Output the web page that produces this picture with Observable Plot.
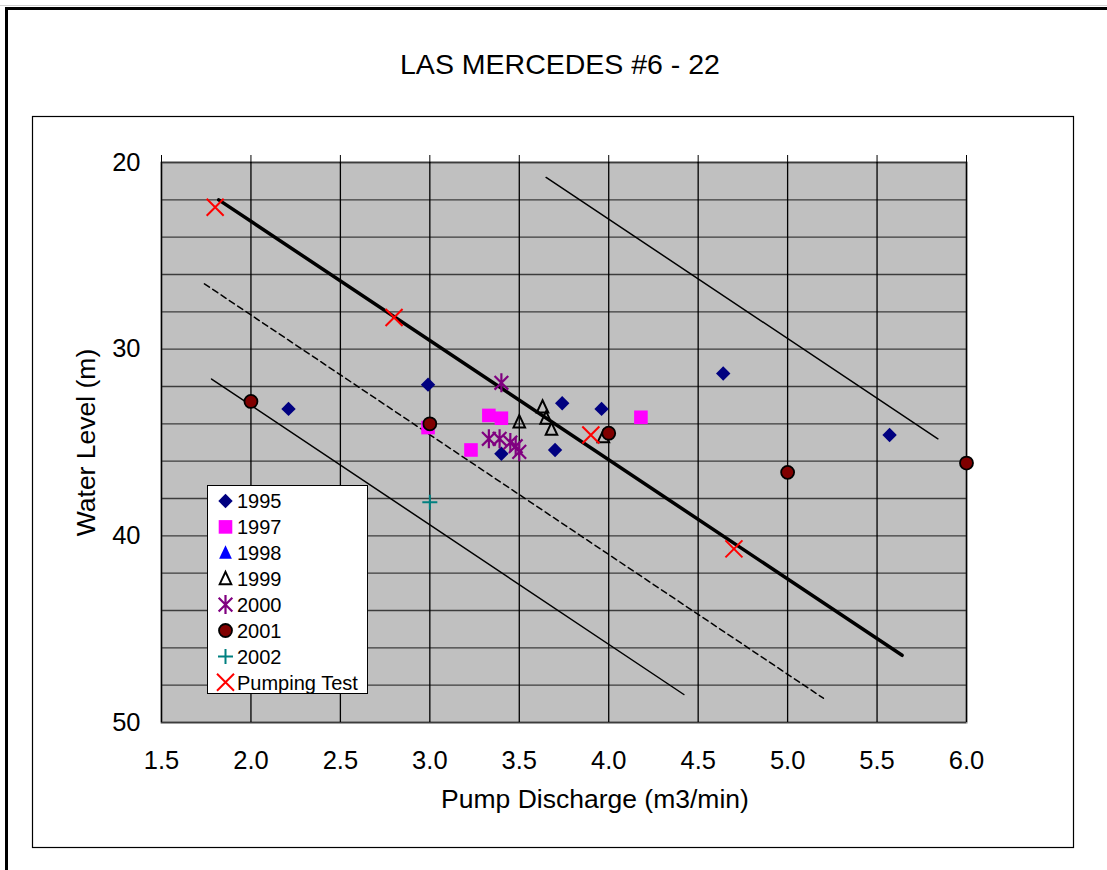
<!DOCTYPE html>
<html>
<head>
<meta charset="utf-8">
<script src="https://cdn.jsdelivr.net/npm/d3@7"></script>
<script src="https://cdn.jsdelivr.net/npm/@observablehq/plot@0.6"></script>
<style>
  body { margin: 0; background: #fff; font-family: "Liberation Sans", Arial, sans-serif; }
  #wrap { position: relative; width: 1107px; height: 870px; overflow: hidden; }
  #wrap > svg { position: absolute; left: 0; top: 0; }
</style>
</head>
<body>
<div id="wrap"></div>
<script>
// ---------- data ----------
const xTicks = [1.5, 2.0, 2.5, 3.0, 3.5, 4.0, 4.5, 5.0, 5.5, 6.0];
const yLabelTicks = [20, 30, 40, 50];
const yGrid = [20, 22, 24, 26, 28, 30, 32, 34, 36, 38, 40, 42, 44, 46, 48, 50];

const x1995 = [2.21, 2.99, 3.40, 3.70, 3.74, 3.96, 4.64, 5.57];
const y1995 = [33.2, 31.9, 35.6, 35.4, 32.9, 33.2, 31.3, 34.6];
const x1997 = [2.99, 3.23, 3.33, 3.40, 4.18];
const y1997 = [34.2, 35.4, 33.55, 33.7, 33.65];
const x1998 = [];
const y1998 = [];
const x1999 = [3.50, 3.63, 3.65, 3.68, 3.97];
const y1999 = [33.9, 33.1, 33.7, 34.3, 34.7];
const x2000 = [3.40, 3.33, 3.39, 3.45, 3.48, 3.50];
const y2000 = [31.8, 34.8, 34.8, 35.0, 35.2, 35.5];
const x2001 = [2.0, 3.0, 4.0, 5.0, 6.0];
const y2001 = [32.8, 34.0, 34.5, 36.6, 36.1];
const x2002 = [3.0];
const y2002 = [38.2];
const xPump = [1.8, 2.8, 3.9, 4.7];
const yPump = [22.4, 28.3, 34.6, 40.7];

// trend lines (end points)
const xThick = [1.82, 5.64], yThick = [22.0, 46.4];
const xUpper = [3.65, 5.84], yUpper = [20.8, 34.8];
const xDash = [1.74, 5.20], yDash = [26.5, 48.7];
const xLower = [1.78, 4.42], yLower = [31.6, 48.5];

const legendLabels = ["1995", "1997", "1998", "1999", "2000", "2001", "2002", "Pumping Test"];

// ---------- helpers ----------
const zip = (xs, ys) => xs.map((x, i) => ({x, y: ys[i]}));
const rOf = size => Math.sqrt(size / Math.PI);
const symDiamond = {draw(c, s) { const r = rOf(s); c.moveTo(0, -r); c.lineTo(r, 0); c.lineTo(0, r); c.lineTo(-r, 0); c.closePath(); }};
const symSquare = {draw(c, s) { const r = rOf(s); c.moveTo(-r, -r); c.lineTo(r, -r); c.lineTo(r, r); c.lineTo(-r, r); c.closePath(); }};
const symTriangle = {draw(c, s) { const r = rOf(s); c.moveTo(0, -r); c.lineTo(r * 0.85, r * 0.8); c.lineTo(-r * 0.85, r * 0.8); c.closePath(); }};
const symAsterisk = {draw(c, s) { const r = rOf(s), k = r * 0.72; c.moveTo(0, -r); c.lineTo(0, r); c.moveTo(-k, -k); c.lineTo(k, k); c.moveTo(-k, k); c.lineTo(k, -k); }};
const symPlus = {draw(c, s) { const r = rOf(s); c.moveTo(0, -r); c.lineTo(0, r); c.moveTo(-r, 0); c.lineTo(r, 0); }};
const symTimes = {draw(c, s) { const r = rOf(s); c.moveTo(-r, -r); c.lineTo(r, r); c.moveTo(-r, r); c.lineTo(r, -r); }};
const symCircle = {draw(c, s) { const r = rOf(s); c.moveTo(r, 0); c.arc(0, 0, r, 0, 2 * Math.PI); c.closePath(); }};

const styles = [
  {symbol: symDiamond, r: 7.2, fill: "#000080", stroke: "none", sw: 0},
  {symbol: symSquare, r: 6.8, fill: "#ff00ff", stroke: "none", sw: 0},
  {symbol: symTriangle, r: 7.5, fill: "#0000ff", stroke: "none", sw: 0},
  {symbol: symTriangle, r: 6.8, fill: "none", stroke: "#000", sw: 2},
  {symbol: symAsterisk, r: 9.5, fill: "none", stroke: "#800080", sw: 2.2},
  {symbol: symCircle, r: 6.5, fill: "#800000", stroke: "#000", sw: 1.8},
  {symbol: symPlus, r: 7.5, fill: "none", stroke: "#008080", sw: 2},
  {symbol: symTimes, r: 8.5, fill: "none", stroke: "#ff0000", sw: 2}
];
const seriesData = [
  zip(x1995, y1995), zip(x1997, y1997), zip(x1998, y1998), zip(x1999, y1999),
  zip(x2000, y2000), zip(x2001, y2001), zip(x2002, y2002), zip(xPump, yPump)
];

const dotMarks = seriesData.map((d, i) => {
  const s = styles[i];
  return Plot.dot(d, {x: "x", y: "y", symbol: s.symbol, r: s.r, fill: s.fill,
    stroke: s.stroke, strokeWidth: s.sw});
});

const chart = Plot.plot({
  width: 1107,
  height: 870,
  marginLeft: 161,
  marginRight: 141,
  marginTop: 162,
  marginBottom: 148,
  style: {background: "transparent", fontFamily: "Liberation Sans, Arial, sans-serif", color: "#000", overflow: "visible"},
  x: {domain: [1.5, 6.0]},
  y: {domain: [20, 50], reverse: true},
  marks: [
    Plot.frame({fill: "#c0c0c0", stroke: "#808080", strokeWidth: 2}),
    Plot.ruleY(yGrid, {stroke: "#3c3c3c", strokeWidth: 1.3}),
    Plot.ruleX(xTicks, {stroke: "#000", strokeWidth: 1.3}),
    Plot.axisY(yLabelTicks, {tickSize: 0, tickPadding: 21, fontSize: 25.5, label: null, tickFormat: d => String(d)}),
    Plot.axisX(xTicks, {anchor: "bottom", tickSize: 0, tickPadding: 28, fontSize: 25.5, label: null, tickFormat: d3.format(".1f")}),
    Plot.axisX(xTicks, {anchor: "top", tickSize: 8, label: null, tickFormat: () => "", stroke: "#000"}),
    Plot.line(zip(xUpper, yUpper), {x: "x", y: "y", stroke: "#000", strokeWidth: 1.5}),
    Plot.line(zip(xLower, yLower), {x: "x", y: "y", stroke: "#000", strokeWidth: 1.5}),
    Plot.line(zip(xDash, yDash), {x: "x", y: "y", stroke: "#000", strokeWidth: 1.5, strokeDasharray: "6,4"}),
    Plot.line(zip(xThick, yThick), {x: "x", y: "y", stroke: "#000", strokeWidth: 3.5}),
    ...dotMarks
  ]
});
document.getElementById("wrap").appendChild(chart);

// ---------- overlay: frames, titles, legend ----------
const ov = d3.select("#wrap").append("svg")
  .attr("width", 1107).attr("height", 870)
  .style("pointer-events", "none")
  .style("font-family", "Liberation Sans, Arial, sans-serif");

ov.append("rect").attr("x", 0).attr("y", 5).attr("width", 1107).attr("height", 1).attr("fill", "#d0d0d0");
ov.append("rect").attr("x", 5).attr("y", 7).attr("width", 1102).attr("height", 3).attr("fill", "#000");
ov.append("rect").attr("x", 5).attr("y", 7).attr("width", 3).attr("height", 863).attr("fill", "#000");
ov.append("rect").attr("x", 32.5).attr("y", 116.5).attr("width", 1041).attr("height", 731)
  .attr("fill", "none").attr("stroke", "#000").attr("stroke-width", 1.2);

ov.append("text").attr("x", 560).attr("y", 73.5).attr("text-anchor", "middle")
  .attr("font-size", 28.5).text("LAS MERCEDES #6 - 22");
ov.append("text").attr("x", 595).attr("y", 808).attr("text-anchor", "middle")
  .attr("font-size", 26.5).text("Pump Discharge (m3/min)");
ov.append("text").attr("transform", "translate(94.5,442.5) rotate(-90)").attr("text-anchor", "middle")
  .attr("font-size", 26.5).text("Water Level (m)");

const lg = ov.append("g").attr("transform", "translate(207.5,485.5)");
lg.append("rect").attr("width", 160).attr("height", 208).attr("fill", "#fff")
  .attr("stroke", "#000").attr("stroke-width", 1);
legendLabels.forEach((lab, i) => {
  const s = styles[i];
  const cy = 15.5 + i * 25.9;
  lg.append("path")
    .attr("d", d3.symbol().type(s.symbol).size(Math.PI * s.r * s.r)())
    .attr("transform", `translate(18,${cy})`)
    .attr("fill", s.fill).attr("stroke", s.stroke).attr("stroke-width", s.sw);
  lg.append("text").attr("x", 29.5).attr("y", cy).attr("dy", "0.36em")
    .attr("font-size", 20).text(lab);
});
</script>
</body>
</html>
